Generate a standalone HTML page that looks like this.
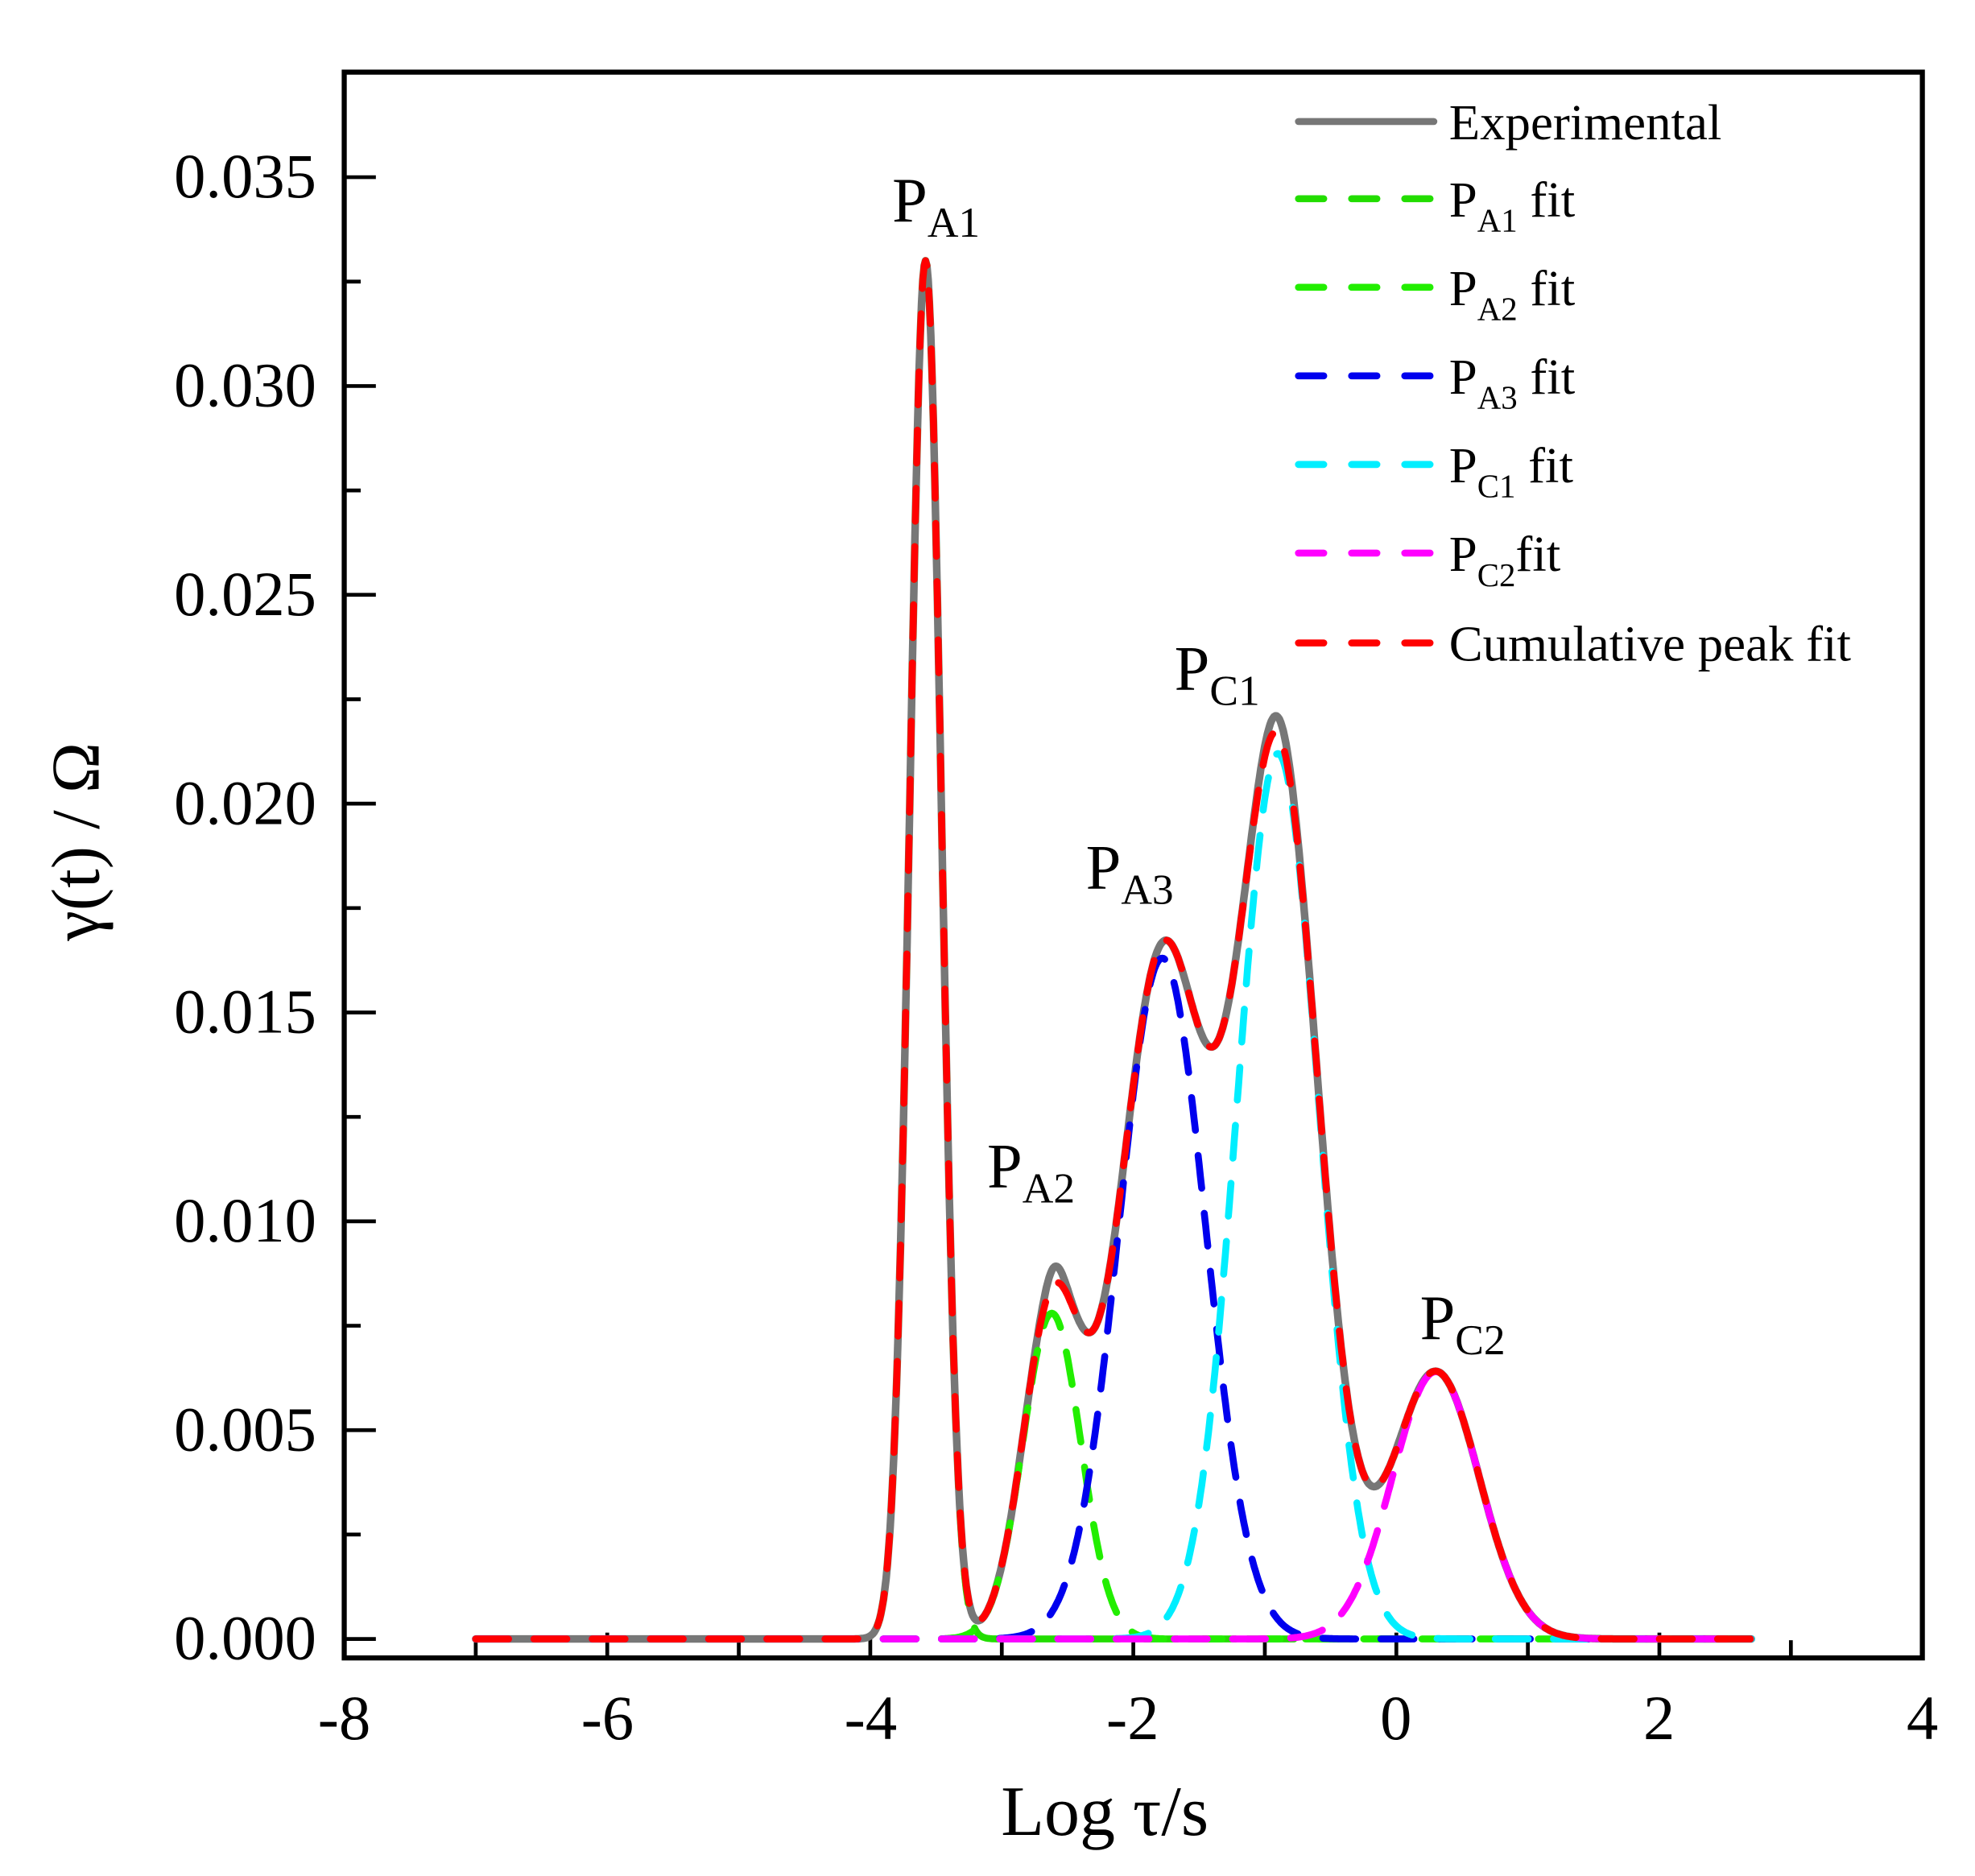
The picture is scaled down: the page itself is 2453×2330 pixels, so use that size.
<!DOCTYPE html>
<html><head><meta charset="utf-8"><style>
html,body{margin:0;padding:0;background:#fff}
svg{display:block}
text{font-family:"Liberation Serif",serif;fill:#000}
</style></head><body>
<svg id="s" width="2453" height="2330" viewBox="0 0 1560.6 1482.3" preserveAspectRatio="none" xmlns="http://www.w3.org/2000/svg">
<rect x="272" y="57" width="1247" height="1253" fill="none" stroke="#000" stroke-width="4"/>
<g id="ticks" stroke="#000" stroke-width="3"></g>
<g font-size="50" text-anchor="end">
<text x="250" y="1311">0.000</text>
<text x="250" y="1146">0.005</text>
<text x="250" y="981">0.010</text>
<text x="250" y="816">0.015</text>
<text x="250" y="651">0.020</text>
<text x="250" y="486">0.025</text>
<text x="250" y="321">0.030</text>
<text x="250" y="156">0.035</text>
</g>
<g font-size="50" text-anchor="middle">
<text x="272" y="1374">-8</text>
<text x="480" y="1374">-6</text>
<text x="688" y="1374">-4</text>
<text x="895" y="1374">-2</text>
<text x="1103" y="1374">0</text>
<text x="1311" y="1374">2</text>
<text x="1519" y="1374">4</text>
</g>
<text x="873" y="1450" font-size="56" text-anchor="middle">Log τ/s</text>
<text transform="translate(78,665) rotate(-90)" font-size="54" text-anchor="middle">γ(t) / Ω</text>
<g id="curves" fill="none" stroke-linecap="round" stroke-linejoin="round"></g>
<g font-size="50">
<text x="705" y="175">P<tspan font-size="34" dy="12">A1</tspan></text>
<text x="780" y="938">P<tspan font-size="34" dy="12">A2</tspan></text>
<text x="858" y="702">P<tspan font-size="34" dy="12">A3</tspan></text>
<text x="928" y="545">P<tspan font-size="34" dy="12">C1</tspan></text>
<text x="1122" y="1058">P<tspan font-size="34" dy="12">C2</tspan></text>
</g>
<g stroke-width="5.5" stroke-linecap="round" fill="none">
<line x1="1026" y1="96" x2="1133" y2="96" stroke="#777"/>
<line x1="1026" y1="157" x2="1133" y2="157" stroke="#22dd00" stroke-dasharray="20,22"/>
<line x1="1026" y1="227" x2="1133" y2="227" stroke="#22ee00" stroke-dasharray="20,22"/>
<line x1="1026" y1="297" x2="1133" y2="297" stroke="#0000ee" stroke-dasharray="20,22"/>
<line x1="1026" y1="367" x2="1133" y2="367" stroke="#00eeff" stroke-dasharray="20,22"/>
<line x1="1026" y1="437" x2="1133" y2="437" stroke="#ff00ff" stroke-dasharray="20,22"/>
<line x1="1026" y1="508" x2="1133" y2="508" stroke="#ff0000" stroke-dasharray="20,22"/>
</g>
<g font-size="40">
<text x="1145" y="110">Experimental</text>
<text x="1145" y="171">P<tspan font-size="26" dy="12">A1</tspan><tspan dy="-12"> fit</tspan></text>
<text x="1145" y="241">P<tspan font-size="26" dy="12">A2</tspan><tspan dy="-12"> fit</tspan></text>
<text x="1145" y="311">P<tspan font-size="26" dy="12">A3</tspan><tspan dy="-12"> fit</tspan></text>
<text x="1145" y="381">P<tspan font-size="26" dy="12">C1</tspan><tspan dy="-12"> fit</tspan></text>
<text x="1145" y="451">P<tspan font-size="26" dy="12">C2</tspan><tspan dy="-12">fit</tspan></text>
<text x="1145" y="522">Cumulative peak fit</text>
</g>
</svg>
<script>
(function(){
function X(x){return 272+(x+8)*103.92;}
function Y(y){return 1295-y*33000;}
var t=document.getElementById('ticks'),h='';
for(var i=0;i<=7;i++){var y=1295-i*165;h+='<line x1="272" y1="'+y+'" x2="297" y2="'+y+'"/>';
 if(i<7){var y2=y-82.5;h+='<line x1="272" y1="'+y2+'" x2="285" y2="'+y2+'"/>';}}
for(var k=-7;k<=3;k++){var x=X(k);h+='<line x1="'+x+'" y1="1310" x2="'+x+'" y2="'+(k%2==0?1290:1296)+'"/>';}
t.innerHTML=h;
function g(c,a,s){return function(x){return a*Math.exp(-0.5*Math.pow((x-c)/s,2));};}
var A1=g(-3.58,0.033,0.12),A2=g(-2.62,0.0078,0.22),A3=g(-1.78,0.0163,0.33),C1=g(-0.9,0.0212,0.31),C2=g(0.3,0.0064,0.33);
function cum(x){return A1(x)+A2(x)+A3(x)+C1(x)+C2(x);}
function exp(x){return cum(x)+0.0004*Math.exp(-Math.pow((x+2.6)/0.1,2))+0.0004*Math.exp(-Math.pow((x+0.9)/0.15,2));}
function path(f){var d='';for(var x=-7;x<=2.7001;x+=0.01){d+=(d?'L':'M')+X(x).toFixed(1)+','+Y(f(x)).toFixed(1);}return d;}
var c=document.getElementById('curves'),s='';
s+='<path d="'+path(exp)+'" stroke="#777" stroke-width="6"/>';
var dash='stroke-dasharray="26,20" stroke-width="5.5"';
s+='<path d="'+path(A1)+'" stroke="#22dd00" '+dash+'/>';
s+='<path d="'+path(A2)+'" stroke="#22ee00" '+dash+'/>';
s+='<path d="'+path(A3)+'" stroke="#0000ee" '+dash+'/>';
s+='<path d="'+path(C1)+'" stroke="#00eeff" '+dash+'/>';
s+='<path d="'+path(C2)+'" stroke="#ff00ff" '+dash+'/>';
s+='<path d="'+path(cum)+'" stroke="#ff0000" '+dash+'/>';
c.innerHTML=s;
})();
</script>
</body></html>
